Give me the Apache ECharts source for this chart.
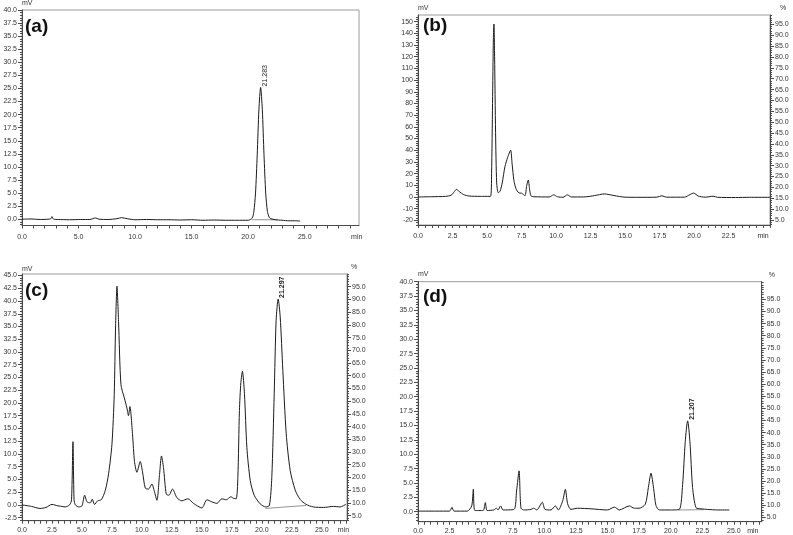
<!DOCTYPE html>
<html>
<head>
<meta charset="utf-8">
<title>HPLC chromatograms</title>
<script src="https://cdn.jsdelivr.net/npm/echarts@6/dist/echarts.min.js"></script>
<style>
  html, body { margin: 0; padding: 0; background: #fff; }
  #main { width: 793px; height: 535px; }
</style>
</head>
<body>
<div id="main"></div>
<script>
// (a) standard
var timeA = [0, 0.8, 1.6, 2.3, 2.55, 2.65, 2.8, 3.2, 4.2, 5.2, 6.0, 6.5, 6.8, 7.6, 8.4, 8.8, 9.3, 10.0, 11.0, 12.0,
  13.0, 14.0, 15.0, 16.0, 17.0, 18.0, 19.0, 20.0, 20.35, 20.5, 20.65, 20.8, 20.95, 21.1, 21.25, 21.4, 21.55, 21.7,
  21.85, 22.0, 22.4, 23.0, 23.6, 24.2, 24.6];
var mvA = [0, 0.05, -0.05, 0, 0.1, 0.5, 0, -0.05, -0.1, -0.05, -0.05, 0.25, 0, -0.05, 0.1, 0.3, 0.1, -0.1, -0.05, -0.1,
  -0.1, -0.15, -0.1, -0.2, -0.15, -0.2, -0.2, -0.2, 0.2, 1.4, 5.0, 12.3, 21.0, 25.2, 21.0, 12.3, 5.0, 1.5,
  0.4, 0.1, -0.1, -0.2, -0.3, -0.3, -0.35];

// (b)
var timeB = [0, 1.0, 2.0, 2.4, 2.6, 2.78, 3.0, 3.3, 3.7, 4.5, 5.25, 5.33, 5.4, 5.46, 5.5, 5.55, 5.62, 5.7, 5.81, 5.95,
  6.1, 6.3, 6.5, 6.71, 6.82, 6.95, 7.1, 7.3, 7.5, 7.6, 7.75, 7.88, 7.99, 8.08, 8.18, 8.4, 9.5, 9.82, 10.1, 10.5,
  10.82, 11.1, 12.0, 12.8, 13.5, 14.2, 15.0, 16.0, 17.3, 17.67, 18.0, 19.3, 19.7, 19.97, 20.3, 20.8, 21.38, 21.7, 23.0, 24.0,
  25.5];
var mvB = [0, 0.2, 0.5, 1.5, 4.0, 6.5, 4.5, 2.0, 0.8, 0.5, 0.5, 20, 80, 135, 148, 120, 55, 12, 3.7, 5,
  12, 26, 34, 40, 28, 14, 7, 3.5, 3.2, 2.5, 1, 10, 14.5, 7, 1, 0.2, 0, 1.8, 0.2, -0.3,
  1.8, 0, 0, 1.2, 2.6, 1.2, -0.2, -0.3, -0.2, 1, -0.2, -0.2, 2, 3.3, 0.8, -0.2, 0.6, -0.3, -0.5, -0.3,
  -0.3];

// (c)
var timeC = [0, 0.8, 1.5, 2.0, 2.5, 3.0, 3.2, 3.6, 3.97, 4.13, 4.25, 4.34, 4.45, 4.72, 5.0, 5.22, 5.42, 5.69, 5.86, 6.05,
  6.3, 6.61, 6.94, 7.22, 7.5, 7.69, 7.8, 7.92, 8.05, 8.25, 8.53, 8.75, 8.88, 9.0, 9.22, 9.38, 9.58, 9.86, 10.05, 10.28,
  10.55, 10.83, 11.03, 11.25, 11.47, 11.63, 11.8, 12.03, 12.25, 12.55, 12.92, 13.33, 13.83, 14.3, 15.0, 15.42, 15.83, 16.25, 16.67, 17.03,
  17.42, 17.63, 17.86, 18.0, 18.13, 18.25, 18.38, 18.55, 18.75, 19.03, 19.36, 19.86, 20.33, 20.63, 20.83, 21.03, 21.19, 21.36, 21.53, 21.75,
  22.03, 22.36, 22.78, 23.19, 23.69, 24.3, 25.13, 25.97, 26.53, 27.0];
var mvC = [0, -0.3, -0.7, -0.5, 0.1, -0.2, -0.25, -0.4, 0, 1.0, 12.4, 1.0, 0, -0.4, -0.2, 1.9, 0.6, 0.4, 1.1, 0.07,
  0.8, 1.0, 2.8, 6.1, 11.9, 21.6, 34.7, 42.9, 36, 23.6, 21, 19, 17.5, 19.3, 13.7, 8.5, 6.4, 8.5, 6.5, 3.3,
  3.1, 4.1, 2.7, 0.9, 6, 9.6, 7.3, 2.1, 1.9, 3.1, 1.4, 0.8, 1.2, 0.3, -0.6, 1.0, 0.6, 0.3, 1.2, 1.0,
  1.6, 1.3, 1.2, 5.4, 18.5, 24, 26.2, 21.8, 11.3, 4.8, 1.9, 0.2, -0.4, -0.1, 5.4, 21.8, 36.2, 40.4, 36.9, 26.4,
  14, 6.8, 2.9, 1.1, 0.1, -0.4, -0.5, -0.3, -0.4, 0.1];

// (d)
var timeD = [0, 1.5, 2.5, 2.69, 2.85, 3.9, 4.25, 4.38, 4.5, 5.15, 5.33, 5.47, 6.0, 6.2, 6.33, 6.54, 6.73, 7.6, 7.8, 8.0,
  8.15, 8.42, 8.94, 9.15, 9.41, 9.64, 9.84, 10.05, 10.52, 10.87, 11.11, 11.45, 11.66, 11.84, 12.1, 12.63, 13.69, 15.0, 15.54, 15.93,
  16.72, 17.12, 17.5, 17.99, 18.23, 18.44, 18.65, 18.83, 19.1, 20.0, 20.68, 20.94, 21.15, 21.34, 21.52, 21.73, 22.0, 22.39, 22.92, 23.71,
  24.64];
var mvD = [0.1, 0.1, 0.1, 0.75, 0.1, 0.1, 1.0, 3.9, 0.2, 0.2, 1.57, 0.2, 0.3, 0.6, 0.3, 1.0, 0.3, 0.4, 3.6, 7.1,
  0.6, 0.3, 0.4, 0.6, 0.3, 1.0, 1.65, 0.4, 0.3, 1.0, 0.3, 1.9, 3.9, 1.4, 0.4, 0.6, 0.5, 0.3, 0.8, 0.3,
  1.0, 0.6, 0.6, 1.3, 4.2, 6.7, 4.0, 1.1, 0.3, 0.3, 0.4, 4.7, 12.2, 15.8, 12.2, 4.2, 0.7, 0.5, 0.4, 0.3,
  0.3];

// integration baselines drawn under the marked peak
var baseTimeA = [20.35, 22.6], baseMvA = [-0.1, -0.1];
var baseTimeC = [20.3, 23.7], baseMvC = [-0.7, -0.1];
var baseTimeD = [20.6, 22.6], baseMvD = [0.3, 0.35];

// retention time tags
var peakTime = [21.1, 21.36, 21.34];
var peakMv = [25.2, 40.4, 15.8];
var peakText = ['21.283', '21.297', '21.207'];

// tick labels
var yLabelsA = [0, 2.5, 5, 7.5, 10, 12.5, 15, 17.5, 20, 22.5, 25, 27.5, 30, 32.5, 35, 37.5, 40];
var yLabelsB = [-20, -10, 0, 10, 20, 30, 40, 50, 60, 70, 80, 90, 100, 110, 120, 130, 140, 150];
var yLabelsC = [-2.5, 0, 2.5, 5, 7.5, 10, 12.5, 15, 17.5, 20, 22.5, 25, 27.5, 30, 32.5, 35, 37.5, 40, 42.5, 45];
var yLabelsD = [0, 2.5, 5, 7.5, 10, 12.5, 15, 17.5, 20, 22.5, 25, 27.5, 30, 32.5, 35, 37.5, 40];
var pctLabels = [5, 10, 15, 20, 25, 30, 35, 40, 45, 50, 55, 60, 65, 70, 75, 80, 85, 90, 95];
var xLabelsA = [0, 5, 10, 15, 20, 25];
var xLabelsB = [0, 2.5, 5, 7.5, 10, 12.5, 15, 17.5, 20, 22.5];
var xLabelsC = [0, 2.5, 5, 7.5, 10, 12.5, 15, 17.5, 20, 22.5, 25];
var xLabelsD = [0, 2.5, 5, 7.5, 10, 12.5, 15, 17.5, 20, 22.5, 25];

[[timeA, mvA], [timeB, mvB], [timeC, mvC], [timeD, mvD]].forEach(function (p, i) {
  if (p[0].length !== p[1].length) throw new Error('length mismatch in panel ' + i + ': ' + p[0].length + ' vs ' + p[1].length);
});

var FONT = '"Liberation Sans", Arial, sans-serif';
var AXIS = '#4a4a4a';
var LABEL = '#333';
var LINE = '#1c1c1c';

function zip(t, v) {
  return t.map(function (x, i) { return [x, v[i]]; });
}
function steps(lo, hi, step) {
  var out = [];
  for (var v = Math.ceil(lo / step - 1e-9) * step; v <= hi + 1e-9; v += step) out.push(+v.toFixed(4));
  return out;
}
function one(v) { return v.toFixed(1); }
function whole(v) { return String(Math.round(v)); }

var grids = [], xAxes = [], yAxes = [], series = [];
var mainY = [];

function addPanel(p) {
  var g = grids.length;
  grids.push({
    left: p.box[0], top: p.box[1], width: p.box[2], height: p.box[3],
    show: true, borderColor: '#9a9a9a', borderWidth: 1, backgroundColor: 'transparent'
  });
  var minAt = p.minAt;
  xAxes.push({
    type: 'value', gridIndex: g, min: p.xRange[0], max: p.xRange[1],
    axisLine: { onZero: false, lineStyle: { color: AXIS, width: 1 } },
    axisTick: { show: true, customValues: steps(p.xRange[0], p.xRange[1], p.xStep), length: 3, lineStyle: { color: AXIS } },
    axisLabel: {
      customValues: p.xLabels.concat([minAt]),
      formatter: function (v) { return Math.abs(v - minAt) < 1e-6 ? 'min' : one(v); },
      fontSize: 7, color: LABEL, margin: p.xMargin, fontFamily: FONT
    },
    splitLine: { show: false }
  });
  var xi = xAxes.length - 1;
  var yi = yAxes.length;
  yAxes.push({
    type: 'value', gridIndex: g, position: 'left', min: p.yRange[0], max: p.yRange[1],
    name: 'mV', nameLocation: 'end', nameGap: p.nameGap,
    nameTextStyle: { fontSize: 7, color: LABEL, fontFamily: FONT, align: 'left' },
    axisLine: { show: true, onZero: false, lineStyle: { color: AXIS, width: 1 } },
    axisTick: { show: true, customValues: p.yLabels, length: 4, lineStyle: { color: AXIS } },
    axisLabel: { customValues: p.yLabels, formatter: p.yFmt, fontSize: 7, color: LABEL, margin: 5, fontFamily: FONT },
    splitLine: { show: false }
  });
  yAxes.push({
    type: 'value', gridIndex: g, position: 'left', min: p.yRange[0], max: p.yRange[1],
    axisLine: { show: false, onZero: false },
    axisTick: { show: true, customValues: steps(p.yRange[0], p.yRange[1], p.yStep), length: 2, lineStyle: { color: AXIS } },
    axisLabel: { show: false },
    splitLine: { show: false }
  });
  if (p.pctRange) {
    yAxes.push({
      type: 'value', gridIndex: g, position: 'right', min: p.pctRange[0], max: p.pctRange[1],
      name: '%', nameLocation: 'end', nameGap: 3,
      nameTextStyle: { fontSize: 7, color: LABEL, fontFamily: FONT, align: 'left', padding: [0, 0, 0, p.pctPad] },
      axisLine: { show: true, onZero: false, lineStyle: { color: AXIS, width: 1 } },
      axisTick: { show: true, customValues: pctLabels, length: 4, lineStyle: { color: AXIS } },
      axisLabel: { customValues: pctLabels, formatter: one, fontSize: 7, color: LABEL, margin: 5, fontFamily: FONT },
      splitLine: { show: false }
    });
    yAxes.push({
      type: 'value', gridIndex: g, position: 'right', min: p.pctRange[0], max: p.pctRange[1],
      axisLine: { show: false, onZero: false },
      axisTick: { show: true, customValues: steps(p.pctRange[0], p.pctRange[1], 1), length: 2, lineStyle: { color: AXIS } },
      axisLabel: { show: false },
      splitLine: { show: false }
    });
  }
  mainY.push([xi, yi]);
  series.push({
    type: 'line', xAxisIndex: xi, yAxisIndex: yi, data: zip(p.t, p.v),
    symbol: 'none', smooth: 0.25, lineStyle: { color: LINE, width: 1 }, z: 3
  });
  if (p.baseT) {
    series.push({
      type: 'line', xAxisIndex: xi, yAxisIndex: yi, data: zip(p.baseT, p.baseV),
      symbol: 'none', lineStyle: { color: '#777', width: 0.8 }, z: 2
    });
  }
}

addPanel({
  box: [22, 10, 337, 215.5], xRange: [0, 29.8], yRange: [-1.2, 40], xStep: 1, yStep: 0.5,
  xLabels: xLabelsA, yLabels: yLabelsA, yFmt: one, minAt: 29.6, nameGap: 3, xMargin: 8,
  t: timeA, v: mvA, baseT: baseTimeA, baseV: baseMvA
});
addPanel({
  box: [418, 15, 352, 210], xRange: [0, 25.5], yRange: [-24, 155.7], xStep: 0.5, yStep: 2,
  xLabels: xLabelsB, yLabels: yLabelsB, yFmt: whole, minAt: 25.0, nameGap: 3, xMargin: 8,
  pctRange: [2.7, 99.3], pctPad: 10,
  t: timeB, v: mvB
});
addPanel({
  box: [22, 274, 325, 246.7], xRange: [0, 27.1], yRange: [-3.1, 45.3], xStep: 0.5, yStep: 0.5,
  xLabels: xLabelsC, yLabels: yLabelsC, yFmt: one, minAt: 26.8, nameGap: 1, xMargin: 6,
  pctRange: [3.0, 100], pctPad: 4,
  t: timeC, v: mvC, baseT: baseTimeC, baseV: baseMvC
});
addPanel({
  box: [418, 281.7, 343.7, 240], xRange: [0, 27.2], yRange: [-1.74, 40], xStep: 0.5, yStep: 0.5,
  xLabels: xLabelsD, yLabels: yLabelsD, yFmt: one, minAt: 26.5, nameGap: 4, xMargin: 6,
  pctRange: [3.2, 102.3], pctPad: 7,
  t: timeD, v: mvD, baseT: baseTimeD, baseV: baseMvD
});

var myChart = echarts.init(document.getElementById('main'), null, { renderer: 'canvas' });
var option = {
  animation: false,
  backgroundColor: '#fff',
  grid: grids,
  xAxis: xAxes,
  yAxis: yAxes,
  series: series
};
myChart.setOption(option);

// panel tags and retention-time labels
var tagPos = [[25, 17], [423, 16], [25, 281], [423, 287]];
var tagText = ['(a)', '(b)', '(c)', '(d)'];
var graphics = tagPos.map(function (pos, i) {
  return {
    type: 'text', left: pos[0], top: pos[1], z: 10,
    style: { text: tagText[i], fontSize: 19, fontWeight: 'bold', fontFamily: FONT, fill: '#111' }
  };
});
var peakPanel = [0, 2, 3];
peakPanel.forEach(function (pi, k) {
  var px = myChart.convertToPixel({ xAxisIndex: mainY[pi][0], yAxisIndex: mainY[pi][1] }, [peakTime[k], peakMv[k]]);
  graphics.push({
    type: 'text', x: px[0] + 4, y: px[1] - 1, rotation: Math.PI / 2, z: 10,
    style: {
      text: peakText[k], fontSize: 7, fontFamily: FONT, fill: '#222',
      fontWeight: k === 0 ? 'normal' : 'bold', align: 'left', verticalAlign: 'middle'
    }
  });
});
myChart.setOption({ graphic: graphics });
</script>
</body>
</html>
